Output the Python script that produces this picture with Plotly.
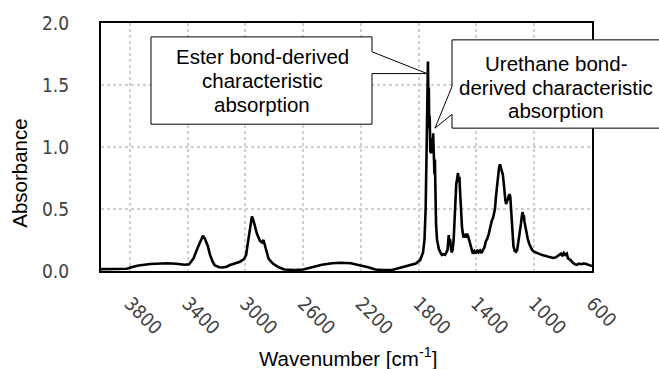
import plotly.graph_objects as go

# FT-IR spectrum (wavenumber in cm^-1, absorbance)
wavenumber = [
    4000, 3900, 3820, 3790, 3740, 3660, 3600, 3540, 3480, 3420, 3390, 3360, 3330, 3310,
    3294, 3280, 3260, 3245, 3225, 3211, 3180, 3162, 3130, 3107, 3070, 3037, 3010, 2995,
    2982, 2968, 2955, 2945, 2930, 2920, 2900, 2885, 2875, 2868, 2855, 2840, 2810, 2770,
    2730, 2660, 2600, 2540, 2470, 2400, 2340, 2270, 2200, 2150, 2100, 2050, 1980, 1930,
    1870, 1820, 1790, 1770, 1760, 1752, 1745, 1740, 1736, 1733, 1730, 1727, 1724, 1720,
    1714, 1708, 1703, 1700, 1697, 1694, 1691, 1688, 1685, 1680, 1673, 1660, 1650, 1640,
    1627, 1618, 1608, 1600, 1595, 1592, 1588, 1583, 1578, 1572, 1565, 1558, 1550, 1545,
    1540, 1533, 1528, 1522, 1518, 1514, 1508, 1500, 1490, 1482, 1475, 1466, 1458, 1450,
    1440, 1433, 1425, 1415, 1405, 1395, 1385, 1375, 1365, 1355, 1345, 1335, 1325, 1315,
    1306, 1295, 1285, 1272, 1265, 1258, 1250, 1243, 1237, 1230, 1222, 1218, 1212, 1206,
    1200, 1195, 1188, 1180, 1172, 1166, 1160, 1155, 1150, 1144, 1135, 1126, 1118, 1108,
    1100, 1092, 1085, 1080, 1076, 1072, 1068, 1062, 1055, 1045, 1035, 1025, 1015, 1000,
    985, 970, 950, 930, 914, 890, 870, 850, 830, 815, 805, 795, 785, 775,
    765, 750, 735, 720, 705, 690, 675, 660, 645, 630, 614, 600,
]
absorbance = [
    0.015, 0.015, 0.018, 0.030, 0.045, 0.056, 0.060, 0.062, 0.058, 0.050, 0.055, 0.100, 0.190, 0.250,
    0.285, 0.260, 0.200, 0.130, 0.070, 0.045, 0.030, 0.028, 0.035, 0.048, 0.060, 0.075, 0.095, 0.130,
    0.235, 0.360, 0.440, 0.410, 0.340, 0.300, 0.245, 0.230, 0.250, 0.220, 0.160, 0.100, 0.060, 0.030,
    0.012, 0.008, 0.012, 0.030, 0.050, 0.062, 0.066, 0.062, 0.045, 0.030, 0.012, 0.008, 0.010, 0.025,
    0.040, 0.060, 0.088, 0.150, 0.250, 0.500, 1.000, 1.450, 1.690, 1.350, 1.480, 1.150, 1.250, 0.970,
    0.950, 1.070, 1.000, 1.110, 0.880, 1.020, 0.780, 0.900, 0.550, 0.380, 0.250, 0.175, 0.150, 0.130,
    0.135, 0.130, 0.150, 0.170, 0.250, 0.290, 0.220, 0.260, 0.200, 0.150, 0.170, 0.250, 0.450, 0.600,
    0.700, 0.750, 0.790, 0.720, 0.760, 0.650, 0.450, 0.350, 0.270, 0.300, 0.270, 0.300, 0.280, 0.250,
    0.200, 0.170, 0.140, 0.160, 0.140, 0.170, 0.150, 0.165, 0.145, 0.170, 0.190, 0.240, 0.260, 0.300,
    0.350, 0.400, 0.430, 0.500, 0.600, 0.700, 0.780, 0.840, 0.860, 0.830, 0.810, 0.780, 0.720, 0.600,
    0.570, 0.540, 0.560, 0.590, 0.620, 0.600, 0.480, 0.400, 0.260, 0.200, 0.160, 0.155, 0.170, 0.240,
    0.300, 0.380, 0.450, 0.475, 0.420, 0.450, 0.400, 0.360, 0.320, 0.260, 0.220, 0.190, 0.170, 0.155,
    0.150, 0.140, 0.130, 0.125, 0.120, 0.110, 0.105, 0.110, 0.130, 0.140, 0.120, 0.145, 0.130, 0.140,
    0.100, 0.090, 0.070, 0.055, 0.050, 0.060, 0.055, 0.060, 0.058, 0.050, 0.045, 0.040,
]

x_ticks = [3800, 3400, 3000, 2600, 2200, 1800, 1400, 1000, 600]
y_ticks = [0.0, 0.5, 1.0, 1.5, 2.0]

ester_label = ["Ester bond-derived", "characteristic", "absorption"]
urethane_label = ["Urethane bond-", "derived characteristic", "absorption"]

W, H = 659, 369
L, R, T, B = 101, 592, 21, 271  # plot area edges in figure pixels


def fx(x):
    return (x - L) / (R - L)


def fy(y):
    return (B - y) / (B - T)


def path(points):
    return "M " + " L ".join(f"{fx(x):.5f},{fy(y):.5f}" for x, y in points) + " Z"


TEXT = "Liberation Sans, Arial, sans-serif"
TICK = "DejaVu Sans Condensed, DejaVu Sans, sans-serif"

fig = go.Figure()
fig.add_trace(go.Scatter(
    x=wavenumber, y=absorbance, mode="lines",
    line=dict(color="black", width=2.6), showlegend=False,
))

# callout boxes with pointers
ester_box = [(151, 35), (372, 35), (372, 50), (427, 72), (372, 72), (372, 123), (151, 123)]
urethane_box = [(452, 38), (661, 38), (661, 127), (452, 127), (452, 113), (435, 127), (452, 85)]
shapes = []
for pts in (ester_box, urethane_box):
    shapes.append(dict(
        type="path", xref="paper", yref="paper", path=path(pts),
        fillcolor="white", line=dict(color="black", width=1), layer="above",
    ))

annotations = []
for lines, cx, ys in ((ester_label, 262, (55, 79, 103)), (urethane_label, 556, (62, 86, 109))):
    for txt, yy in zip(lines, ys):
        annotations.append(dict(
            text=txt, xref="paper", yref="paper", x=fx(cx), y=fy(yy),
            xanchor="center", yanchor="middle", showarrow=False,
            font=dict(family=TEXT, size=20.5, color="black"),
        ))

annotations.append(dict(
    text="Absorbance", xref="paper", yref="paper", x=fx(20), y=fy(173),
    xanchor="center", yanchor="middle", textangle=-90, showarrow=False,
    font=dict(family=TEXT, size=20.5, color="black"),
))
annotations.append(dict(
    text="Wavenumber [cm<sup>-1</sup>]", xref="paper", yref="paper", x=fx(348), y=fy(358),
    xanchor="center", yanchor="middle", showarrow=False,
    font=dict(family=TEXT, size=20.5, color="black"),
))

fig.update_layout(
    width=W, height=H,
    margin=dict(l=L, r=W - R, t=T, b=H - B),
    paper_bgcolor="white", plot_bgcolor="white",
    shapes=shapes, annotations=annotations,
    xaxis=dict(
        range=[4000, 600], tickmode="array", tickvals=x_ticks,
        ticktext=[str(v) for v in x_ticks], tickangle=45,
        showgrid=True, gridcolor="#cfcfcf", griddash="dot", gridwidth=1.5,
        showline=True, mirror=True, linecolor="black", linewidth=2,
        ticks="", zeroline=False,
        tickfont=dict(family=TICK, size=19, color="#404040"),
        ticklabelstandoff=12,
    ),
    yaxis=dict(
        range=[0, 2], tickmode="array", tickvals=y_ticks,
        ticktext=[f"{v:.1f}" for v in y_ticks],
        showgrid=True, gridcolor="#cfcfcf", griddash="dot", gridwidth=1.5,
        showline=True, mirror=True, linecolor="black", linewidth=2,
        ticks="", zeroline=False,
        tickfont=dict(family=TICK, size=19, color="#404040"),
        ticklabelstandoff=26,
    ),
)

fig.write_html("out.html")
